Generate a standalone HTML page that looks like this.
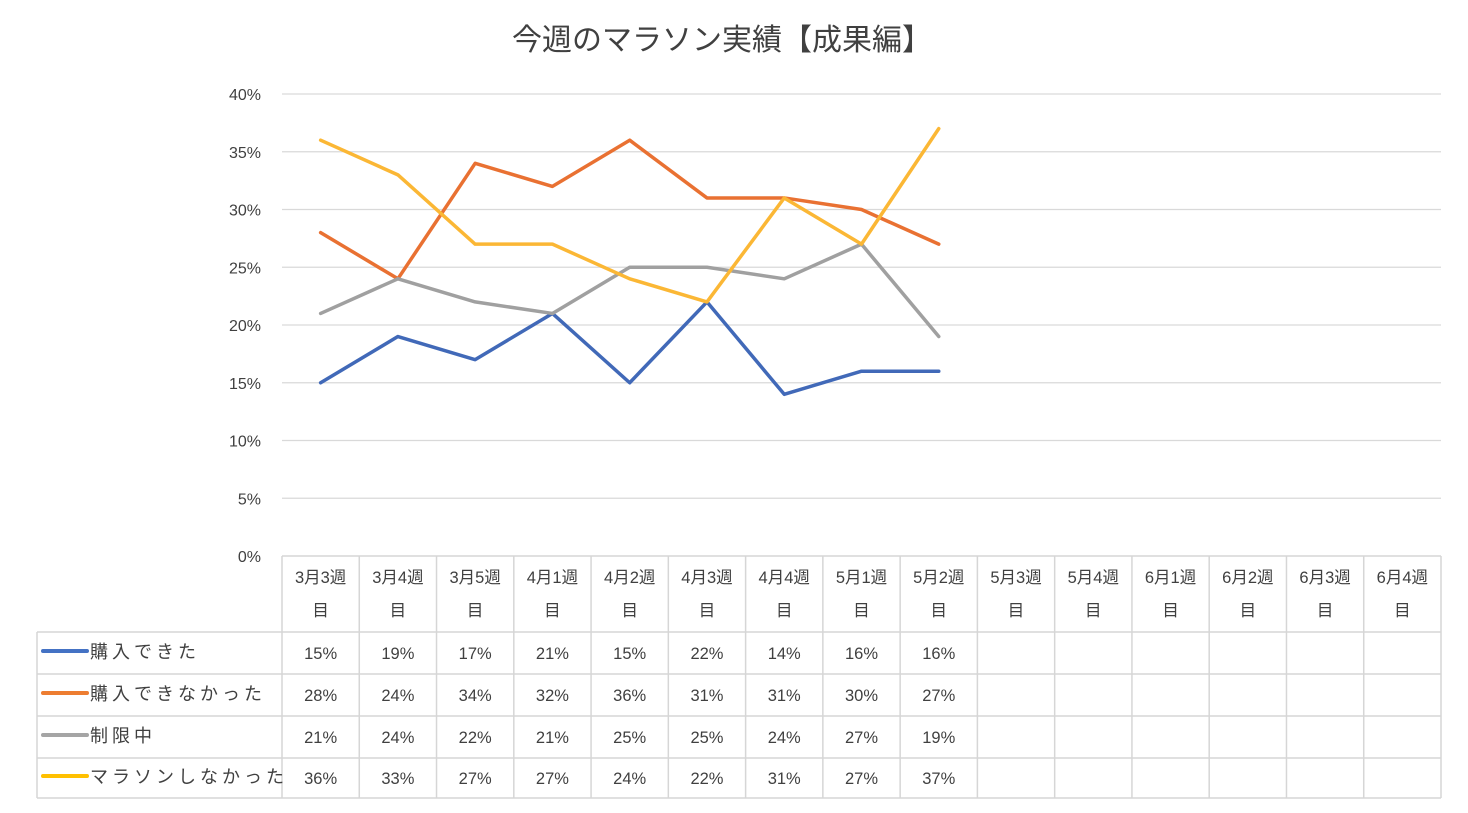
<!DOCTYPE html>
<html><head><meta charset="utf-8"><style>
body{margin:0;background:#fff;}
svg text{font-family:"Liberation Sans","Noto Sans CJK JP",sans-serif;fill:#404040;}
</style></head><body>
<svg id="chart" width="1468" height="808" xmlns="http://www.w3.org/2000/svg">
<text x="722" y="50" font-size="30" text-anchor="middle" fill="#595959">今週のマラソン実績【成果編】</text>
<g id="grid"></g><g id="table"></g><g id="lines"></g>
</svg>
<script>
const categories=["3月3週目","3月4週目","3月5週目","4月1週目","4月2週目","4月3週目","4月4週目","5月1週目","5月2週目","5月3週目","5月4週目","6月1週目","6月2週目","6月3週目","6月4週目"];
const seriesNames=["購入できた","購入できなかった","制限中","マラソンしなかった"];
const s1=[15,19,17,21,15,22,14,16,16];
const s2=[28,24,34,32,36,31,31,30,27];
const s3=[21,24,22,21,25,25,24,27,19];
const s4=[36,33,27,27,24,22,31,27,37];
const yTicks=[0,5,10,15,20,25,30,35,40];
const colors=["#4472C4","#ED7D31","#A5A5A5","#FFC000"];
const lineColors=["#4169B8","#E97132","#A0A0A0","#FBB735"];
const series=[s1,s2,s3,s4];
const NS="http://www.w3.org/2000/svg";
const X0=282,X1=1441,Y0=556,Y1=94;
const colW=(X1-X0)/categories.length;
const x=i=>X0+colW*(i+0.5);
const y=v=>Y0-(v/40)*(Y0-Y1);
function mk(tag,attrs,parent,txt){const e=document.createElementNS(NS,tag);for(const k in attrs)e.setAttribute(k,attrs[k]);if(txt!==undefined)e.textContent=txt;parent.appendChild(e);return e;}
const grid=document.getElementById('grid'),table=document.getElementById('table'),lines=document.getElementById('lines');
yTicks.forEach(t=>{
 if(t>0){const l=mk('line',{x1:X0,x2:X1,y1:y(t),y2:y(t),stroke:'#d9d9d9','stroke-width':1.3},grid);
 
 }
 const tx=mk('text',{x:261,y:y(t)+6,'font-size':16,'text-anchor':'end'},grid,t+'%');
 
 
});
const rows=[556,632,674,716,758,798];
const bc='#d6d6d6';
mk('line',{x1:X0,x2:X1,y1:rows[0],y2:rows[0],stroke:bc,'stroke-width':1.5},table);
for(let r=1;r<rows.length;r++)mk('line',{x1:37,x2:X1,y1:rows[r],y2:rows[r],stroke:bc,'stroke-width':1.5},table);
mk('line',{x1:37,x2:37,y1:rows[1],y2:rows[5],stroke:bc,'stroke-width':1.5},table);
for(let i=0;i<=categories.length;i++)mk('line',{x1:X0+colW*i,x2:X0+colW*i,y1:rows[0],y2:rows[5],stroke:bc,'stroke-width':1.5},table);
categories.forEach((c,i)=>{
 const a=mk('text',{x:x(i),y:583,'font-size':16.5,'text-anchor':'middle'},table,c.slice(0,-1));
 
 
 mk('text',{x:x(i),y:616,'font-size':16.5,'text-anchor':'middle'},table,c.slice(-1));
});
series.forEach((s,k)=>{
 const cy=(rows[k+1]+rows[k+2])/2;
 const lg=mk('line',{x1:43,x2:87,y1:cy-2,y2:cy-2,stroke:colors[k],'stroke-width':4,'stroke-linecap':'round'},table);
 
 
 const ln=mk('text',{x:90,y:cy+5,'font-size':18,'letter-spacing':'4'},table,seriesNames[k]);
 
 
 s.forEach((v,i)=>{
  const t=mk('text',{x:x(i),y:cy+6,'font-size':16.5,'text-anchor':'middle'},table,v+'%');
  
  
 });
 const p=mk('polyline',{points:s.map((v,i)=>x(i)+','+y(v)).join(' '),fill:'none',stroke:lineColors[k],'stroke-width':3.5,'stroke-linejoin':'round','stroke-linecap':'round'},lines);
 
 
});
</script>
</body></html>
